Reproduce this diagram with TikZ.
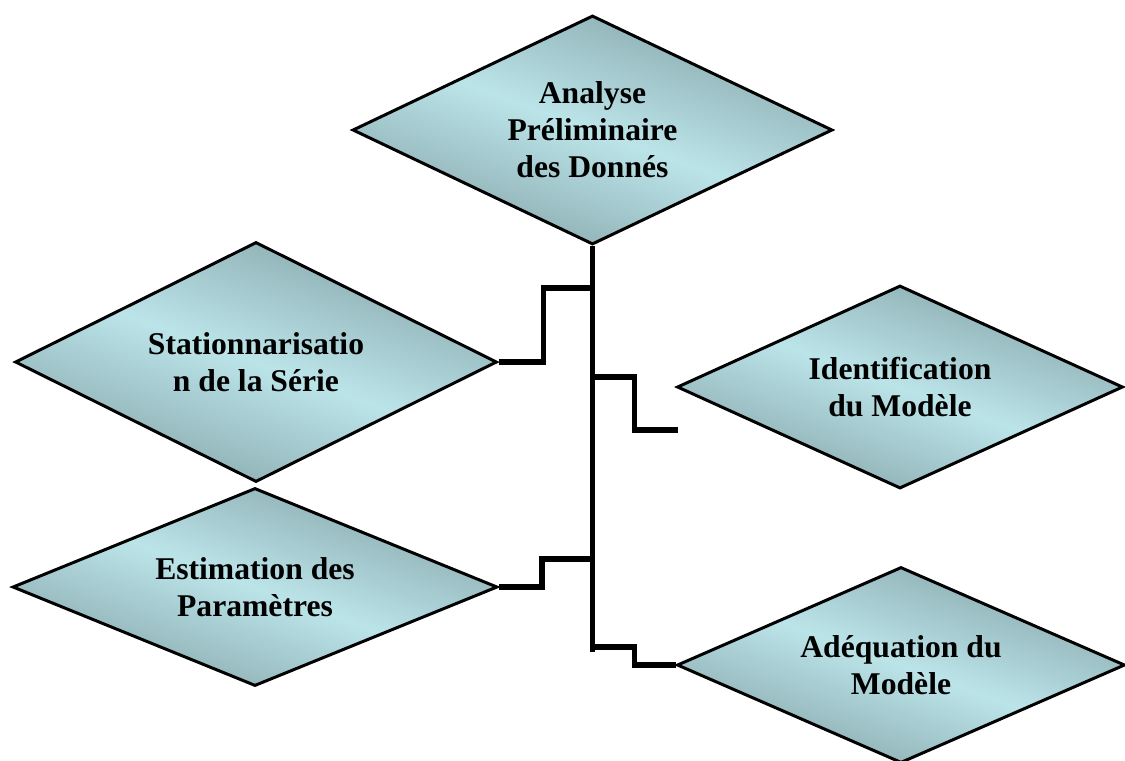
\documentclass[tikz,border=0pt]{standalone}
\usepackage{fontspec}
\setmainfont{Liberation Serif}
\usepackage{tikz}
\usetikzlibrary{shapes.geometric,positioning,calc}
\definecolor{tealdark}{RGB}{134,166,170}
\definecolor{teallight}{RGB}{187,228,233}

\begin{document}
\begin{tikzpicture}[
    etape/.style={diamond,aspect=2.2,draw=black,line width=1.7pt,
      top color=tealdark,bottom color=tealdark,middle color=teallight,
      shading angle=-20,inner sep=2pt,align=center,
      font=\fontsize{18}{21}\selectfont\bfseries},
    lien/.style={line width=2.9pt,line join=miter}]
  \useasboundingbox (0,0) rectangle (22.5,-15.2);
  \node[etape,minimum width=9.6cm,minimum height=4.58cm] (ana) at (11.85,-2.6)
    {Analyse\\Préliminaire\\des Donnés};
  \node[etape,minimum width=9.64cm,minimum height=4.8cm] (sta) at (5.12,-7.24)
    {Stationnarisatio\\n de la Série};
  \node[etape,minimum width=8.92cm,minimum height=4.06cm] (ide) at (18.0,-7.74)
    {Identification\\du Modèle};
  \node[etape,minimum width=9.7cm,minimum height=3.96cm] (est) at (5.1,-11.74)
    {Estimation des\\Paramètres};
  \node[etape,minimum width=8.96cm,minimum height=3.92cm] (ade) at (18.02,-13.3)
    {Adéquation du\\Modèle};
  % tronc et embranchements
  \coordinate (fin) at (ana.south |- 0,-13.04);
  \coordinate (b1) at (ana.south |- 0,-5.76);
  \coordinate (b2) at (ana.south |- 0,-7.54);
  \coordinate (b3) at (ana.south |- 0,-11.18);
  \coordinate (b4) at (ana.south |- 0,-12.94);
  \coordinate (e2) at (13.56,-8.6);
  \draw[lien] (ana.south) -- (fin);
  \draw[lien] (sta.east) -- ++(0.9,0) |- (b1);
  \draw[lien] (b2) -- ++(0.84,0) |- (e2);
  \draw[lien] (est.east) -- ++(0.86,0) |- (b3);
  \draw[lien] (b4) -- ++(0.84,0) |- (ade.west);
\end{tikzpicture}
\end{document}
